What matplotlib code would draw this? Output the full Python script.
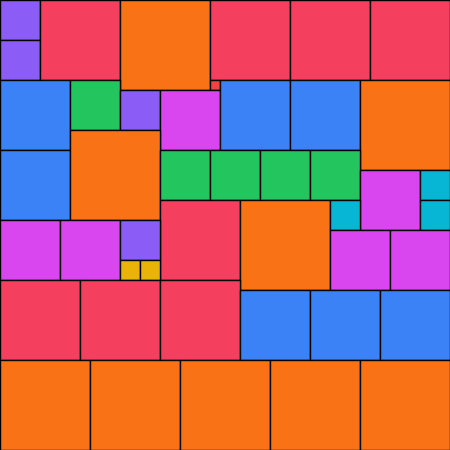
import matplotlib
matplotlib.use("Agg")
import matplotlib.pyplot as plt
from matplotlib.patches import Rectangle

# Partridge tiling: k squares of side k (k = 1..9) fill a 45 x 45 square
grid_size = 45
side_colors = {1: "#ef4444", 2: "#eab308", 3: "#06b6d4", 4: "#8b5cf6", 5: "#22c55e",
               6: "#d946ef", 7: "#3b82f6", 8: "#f43f5e", 9: "#f97316"}

# each square: side, column, row (grid units, row counted from the top)
sides = [4, 4, 8, 9, 8, 8, 8, 1,
         7, 5, 4, 6, 7, 7, 9,
         7, 9, 5, 5, 5, 5, 6, 3, 3,
         8, 9, 3, 6, 6,
         6, 6, 4, 2, 2,
         8, 8, 8, 7, 7, 7,
         9, 9, 9, 9, 9]
cols = [0, 0, 4, 12, 21, 29, 37, 21,
        0, 7, 12, 16, 22, 29, 36,
        0, 7, 16, 21, 26, 31, 36, 42, 42,
        16, 24, 33, 33, 39,
        0, 6, 12, 12, 14,
        0, 8, 16, 24, 31, 38,
        0, 9, 18, 27, 36]
rows = [0, 4, 0, 0, 0, 0, 0, 8,
        8, 8, 9, 9, 8, 8, 8,
        15, 13, 15, 15, 15, 15, 17, 17, 20,
        20, 20, 20, 23, 23,
        22, 22, 22, 26, 26,
        28, 28, 28, 29, 29, 29,
        36, 36, 36, 36, 36]

fig = plt.figure(figsize=(4.5, 4.5), dpi=100)
ax = fig.add_axes([0, 0, 1, 1])
for s, c, r in zip(sides, cols, rows):
    ax.add_patch(Rectangle((c, r), s, s, facecolor=side_colors[s],
                           edgecolor="black", linewidth=1.0))
ax.set_xlim(0, grid_size)
ax.set_ylim(grid_size, 0)
ax.axis("off")
fig.savefig("out.png", dpi=100)
